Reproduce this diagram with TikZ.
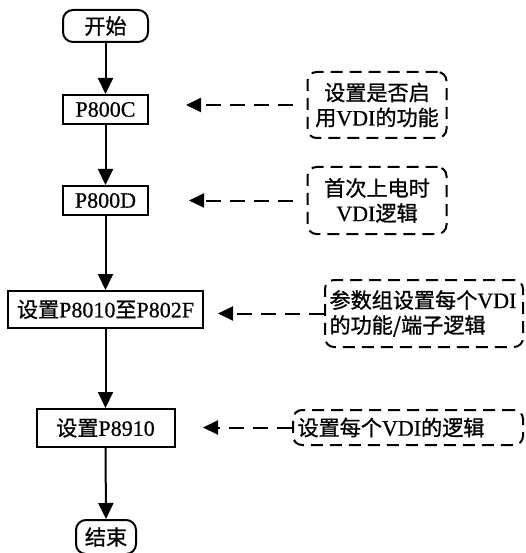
\documentclass[tikz,border=0pt]{standalone}
\usepackage{fontspec}
\setmainfont{Liberation Serif}[FakeBold=0.6]
\newfontfamily\cjk{Noto Sans CJK SC}[Scale=0.96, FakeBold=1]
\usetikzlibrary{arrows.meta}
\newcommand\zh[1]{{\cjk #1}}
\begin{document}
\begin{tikzpicture}[x=1pt,y=-1pt,
  txt/.style={font=\fontsize{22}{25}\selectfont},
  box/.style={txt, draw, line width=2pt, inner sep=0pt},
  term/.style={box, rounded corners=10pt},
  note/.style={txt, draw, line width=2pt, dash pattern=on 12pt off 7pt, rounded corners=9pt, inner ysep=2pt},
  flow/.style={line width=2pt, -{Triangle[length=16pt 0,width=15pt 0]}},
  dflow/.style={line width=2pt, dash pattern=on 15pt off 9pt, -{Triangle[length=15pt 0,width=14pt 0]}}]
\useasboundingbox (0,0) rectangle (525,553);
% main flow
\node[term, minimum width=85pt, minimum height=32pt] (start) at (105.5,26) {\zh{开始}};
\node[box, minimum width=85pt, minimum height=29pt] (c) at (105.5,109.5) {P800C};
\node[box, minimum width=85pt, minimum height=29pt] (d) at (105.5,200.5) {P800D};
\node[box, minimum width=195pt, minimum height=37pt] (p1) at (105.5,309.5) {\zh{设置}P8010\zh{至}P802F};
\node[box, minimum width=138pt, minimum height=38pt] (p2) at (105.5,428) {\zh{设置}P8910};
\node[term, minimum width=60pt, minimum height=34pt] (end) at (106,537) {\zh{结束}};
\draw[flow] (start.south) -- (c.north);
\draw[flow] (c.south) -- (d.north);
\draw[flow] (d.south) -- (p1.north);
\draw[flow] (p1.south) -- (p2.north);
\draw[flow] (p2.south) -- (end.north);
% notes
\node[note, minimum width=139pt, minimum height=66pt, align=center] (n1) at (377,105) {\zh{设置是否启}\\\zh{用}VDI\zh{的功能}};
\node[note, minimum width=139pt, minimum height=67pt, align=center] (n2) at (377,200.5) {\zh{首次上电时}\\VDI\zh{逻辑}};
\node[note, minimum width=198pt, minimum height=67pt, text width=189pt, align=left, inner xsep=4.5pt] (n3) at (424,313.5) {\zh{参数组设置每个}VDI\\\zh{的功能/端子逻辑}};
\node[note, minimum width=230pt, minimum height=35pt, text width=221pt, align=left, inner xsep=4.5pt] (n4) at (408,427.5) {\zh{设置每个}VDI\zh{的逻辑}};
\coordinate (t1) at (200,106);
\coordinate (t2) at (203,202);
\coordinate (t3) at (218,313);
\coordinate (t4) at (203,426);
\draw[dflow] ([xshift=-14pt]n1.west) -- ([xshift=-14pt]n1.west -| t1);
\draw[dflow] ([xshift=-14pt]n2.west) -- ([xshift=-14pt]n2.west -| t2);
\draw[dflow] (n3.west) -- (n3.west -| t3);
\draw[dflow] (n4.west) -- (n4.west -| t4);
\end{tikzpicture}
\end{document}
